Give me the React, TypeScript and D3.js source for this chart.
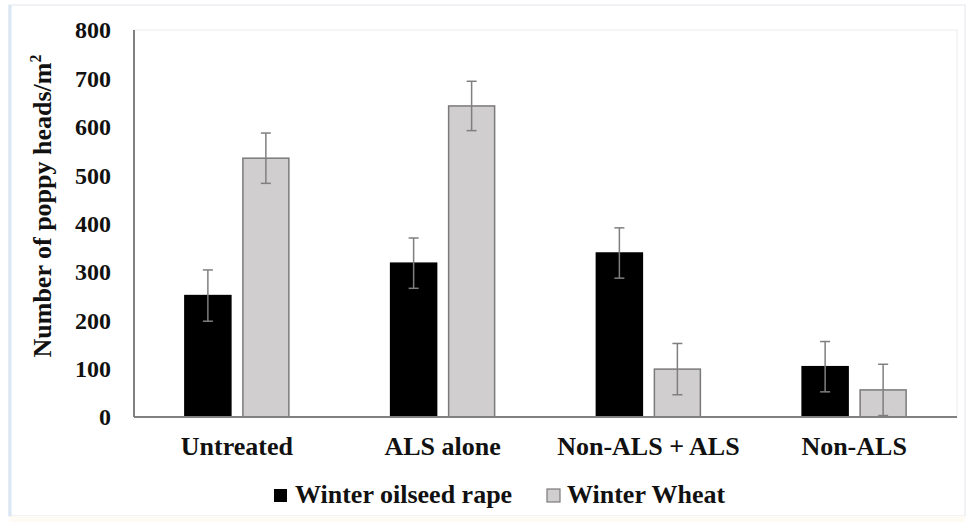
import React from "react";
import * as d3 from "d3";

const categories = ["Untreated", "ALS alone", "Non-ALS + ALS", "Non-ALS"];
const seriesNames = ["Winter oilseed rape", "Winter Wheat"];
const oilseedRape = [251, 318, 339, 104];
const oilseedRapeErr = [53, 52, 52, 52];
const winterWheat = [535, 643, 99, 56];
const winterWheatErr = [52, 51, 53, 53];
const yTicks = [0, 100, 200, 300, 400, 500, 600, 700, 800];

const W = 972;
const H = 526;
const plotLeft = 134;
const plotRight = 957;
const plotTop = 30;
const plotBottom = 417;

const FONT = "'Liberation Serif', 'Times New Roman', serif";

export default function App() {
  const x = d3.scaleBand<string>().domain(categories).range([plotLeft, plotRight]).padding(0);
  const y = d3.scaleLinear().domain([0, 800]).range([plotBottom, plotTop]);
  const barW = 46;
  const gap = 12;
  const series = [
    { name: seriesNames[0], values: oilseedRape, errs: oilseedRapeErr, fill: "#000000", stroke: "#000000", offset: -gap / 2 - barW },
    { name: seriesNames[1], values: winterWheat, errs: winterWheatErr, fill: "#d0cece", stroke: "#7a7a7a", offset: gap / 2 },
  ];
  return (
    <svg width={W} height={H} style={{ position: "absolute", left: 0, top: 0, background: "#fff" }}>
      <rect x={0} y={0} width={W} height={H} fill="#ffffff" />
      {/* outer frame */}
      <rect x={9} y={5} width={956} height={511} fill="#ffffff" stroke="#eceef2" strokeWidth={1.5} />
      <line x1={10} x2={10} y1={5} y2={516} stroke="#dbe6f4" strokeWidth={3} />
      <rect x={10} y={516} width={955} height={6} fill="#fdfbf4" />
      {/* plot area border */}
      <rect x={plotLeft} y={plotTop} width={plotRight - plotLeft} height={plotBottom - plotTop} fill="none" stroke="#ececec" strokeWidth={1} />
      {/* bars */}
      {series.map((s) =>
        categories.map((c, i) => {
          const cx = (x(c) as number) + x.bandwidth() / 2;
          const bx = cx + s.offset;
          return (
            <rect key={s.name + c} x={bx} y={y(s.values[i])} width={barW} height={plotBottom - y(s.values[i])}
              fill={s.fill} stroke={s.stroke} strokeWidth={1.5} />
          );
        })
      )}
      {/* error bars */}
      {series.map((s) =>
        categories.map((c, i) => {
          const cx = (x(c) as number) + x.bandwidth() / 2 + s.offset + barW / 2;
          const hi = y(s.values[i] + s.errs[i]);
          const lo = y(Math.max(0, s.values[i] - s.errs[i]));
          return (
            <g key={"e" + s.name + c} stroke="#7f7f7f" strokeWidth={1.5}>
              <line x1={cx} x2={cx} y1={hi} y2={lo} />
              <line x1={cx - 5} x2={cx + 5} y1={hi} y2={hi} />
              <line x1={cx - 5} x2={cx + 5} y1={lo} y2={lo} />
            </g>
          );
        })
      )}
      {/* axes */}
      <line x1={plotLeft} x2={plotLeft} y1={plotTop} y2={plotBottom} stroke="#808080" strokeWidth={2} />
      <line x1={plotLeft} x2={plotRight} y1={plotBottom} y2={plotBottom} stroke="#808080" strokeWidth={2} />
      {yTicks.map((t) => (
        <text key={t} x={111} y={y(t)} dy="0.35em" textAnchor="end" fontFamily={FONT} fontWeight="bold" fontSize={24} fill="#111">
          {t}
        </text>
      ))}
      {categories.map((c) => (
        <text key={c} x={(x(c) as number) + x.bandwidth() / 2} y={455} textAnchor="middle" fontFamily={FONT} fontWeight="bold" fontSize={26} fill="#111">
          {c}
        </text>
      ))}
      <text transform={`translate(51, 206) rotate(-90)`} textAnchor="middle" fontFamily={FONT} fontWeight="bold" fontSize={26} fill="#111">
        Number of poppy heads/m<tspan dy={-10} fontSize={16}>2</tspan>
      </text>
      {/* legend */}
      <rect x={274} y={489} width={13} height={13} fill="#000" />
      <text x={295} y={503} fontFamily={FONT} fontWeight="bold" fontSize={26} fill="#111">{seriesNames[0]}</text>
      <rect x={547} y={489} width={13} height={13} fill="#d0cece" stroke="#7a7a7a" strokeWidth={1.2} />
      <text x={567} y={503} fontFamily={FONT} fontWeight="bold" fontSize={26} fill="#111">{seriesNames[1]}</text>
    </svg>
  );
}
